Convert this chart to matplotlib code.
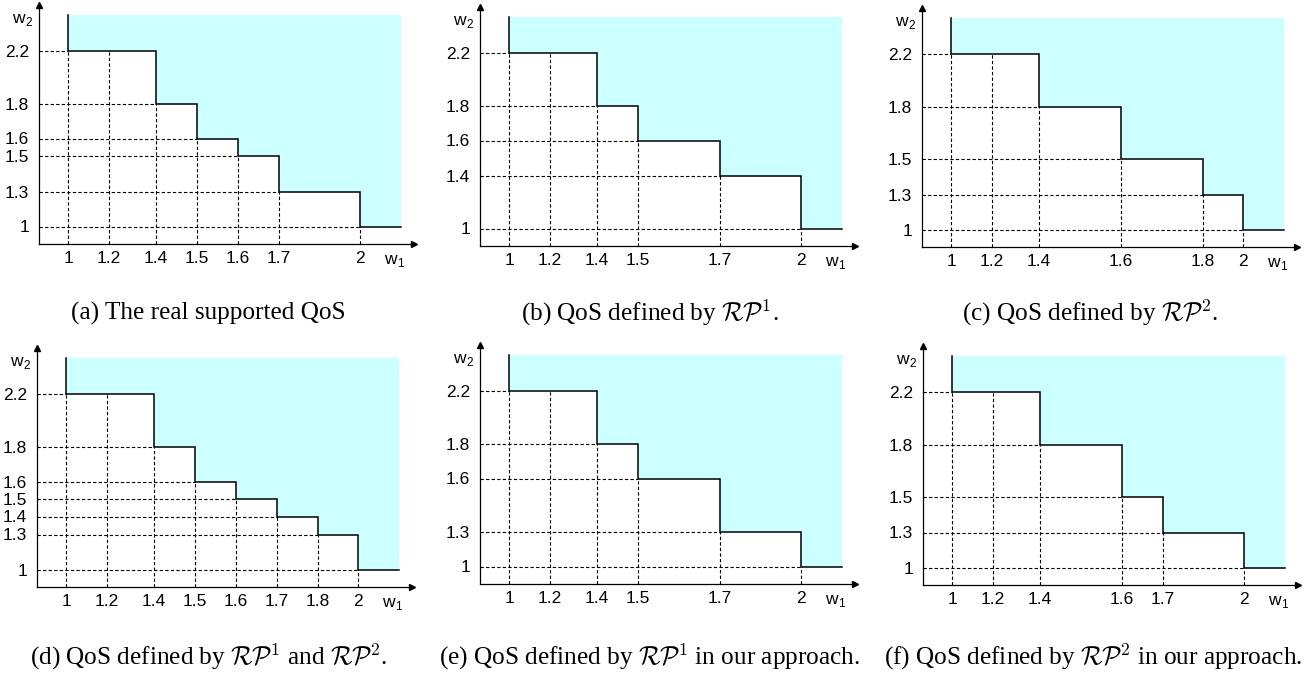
import numpy as np
import matplotlib
matplotlib.use('Agg')
import matplotlib.pyplot as plt
from matplotlib.ticker import NullLocator

plt.rcParams['mathtext.fontset'] = 'cm'

# ---- data: staircase corners (w1 where the step starts, w2 level of that step)
a_w1 = [1, 1.4, 1.5, 1.6, 1.7, 2]
a_w2 = [2.2, 1.8, 1.6, 1.5, 1.3, 1]
a_xticks = [1, 1.2, 1.4, 1.5, 1.6, 1.7, 2]

b_w1 = [1, 1.4, 1.5, 1.7, 2]
b_w2 = [2.2, 1.8, 1.6, 1.4, 1]
b_xticks = [1, 1.2, 1.4, 1.5, 1.7, 2]

c_w1 = [1, 1.4, 1.6, 1.8, 2]
c_w2 = [2.2, 1.8, 1.5, 1.3, 1]
c_xticks = [1, 1.2, 1.4, 1.6, 1.8, 2]

d_w1 = [1, 1.4, 1.5, 1.6, 1.7, 1.8, 2]
d_w2 = [2.2, 1.8, 1.6, 1.5, 1.4, 1.3, 1]
d_xticks = [1, 1.2, 1.4, 1.5, 1.6, 1.7, 1.8, 2]

e_w1 = [1, 1.4, 1.5, 1.7, 2]
e_w2 = [2.2, 1.8, 1.6, 1.3, 1]
e_xticks = [1, 1.2, 1.4, 1.5, 1.7, 2]

f_w1 = [1, 1.4, 1.6, 1.7, 2]
f_w2 = [2.2, 1.8, 1.5, 1.3, 1]
f_xticks = [1, 1.2, 1.4, 1.6, 1.7, 2]

captions = [
    "(a) The real supported QoS",
    r"(b) QoS defined by $\mathcal{RP}^1$.",
    r"(c) QoS defined by $\mathcal{RP}^2$.",
    r"(d) QoS defined by $\mathcal{RP}^1$ and $\mathcal{RP}^2$.",
    r"(e) QoS defined by $\mathcal{RP}^1$ in our approach.",
    r"(f) QoS defined by $\mathcal{RP}^2$ in our approach.",
]

# ---- layout: the axes are schematic, values sit on a fixed grid (pixels from origin)
X_KNOTS = [1, 1.2, 1.4, 1.5, 1.6, 1.7, 1.8, 2]
X_PX = [29, 70, 117, 158, 199, 240, 281, 321]
Y_KNOTS = [1, 1.3, 1.4, 1.5, 1.6, 1.8, 2.2]
Y_PX = [17.5, 52.5, 70.5, 87.6, 105.5, 140.3, 193]
AX_W, AX_H = 375, 239       # axis length incl. arrow
FILL_R, FILL_T = 362, 229   # shaded region extent
W, H = 1314, 675
ORIGINS = [(39, 244), (480, 246), (922, 247), (37, 587), (480, 584), (923, 585)]
CAP_POS = [(208, 313), (650, 313), (1090, 313), (209, 657), (650, 657), (1093, 657)]
FILL = '#ccffff'


def piecewise(src, dst):
    src = np.asarray(src, float)
    dst = np.asarray(dst, float)
    s_lo = (dst[1] - dst[0]) / (src[1] - src[0])
    s_hi = (dst[-1] - dst[-2]) / (src[-1] - src[-2])

    def f(v):
        v = np.asarray(v, float)
        out = np.interp(v, src, dst)
        out = np.where(v < src[0], dst[0] + (v - src[0]) * s_lo, out)
        out = np.where(v > src[-1], dst[-1] + (v - src[-1]) * s_hi, out)
        return out
    return f


xf, xi = piecewise(X_KNOTS, X_PX), piecewise(X_PX, X_KNOTS)
yf, yi = piecewise(Y_KNOTS, Y_PX), piecewise(Y_PX, Y_KNOTS)

fig = plt.figure(figsize=(13.14, 6.75), dpi=100)

panels = [(a_w1, a_w2, a_xticks), (b_w1, b_w2, b_xticks), (c_w1, c_w2, c_xticks),
          (d_w1, d_w2, d_xticks), (e_w1, e_w2, e_xticks), (f_w1, f_w2, f_xticks)]

sans = ['Liberation Sans', 'DejaVu Sans']


def var_label(x, y, sub):
    # "w" with a small subscript, in the sans tick font
    fig.text(x / W, 1 - y / H, 'w', family=sans, fontsize=12.5, ha='right', va='baseline')
    fig.text((x + 0.5) / W, 1 - (y + 3) / H, sub, family=sans, fontsize=8.5,
             ha='left', va='baseline')


for k, (w1, w2, xt) in enumerate(panels):
    ox, oy = ORIGINS[k]
    ax = fig.add_axes([ox / W, 1 - oy / H, AX_W / W, AX_H / H])
    ax.set_xscale('function', functions=(xf, xi))
    ax.set_yscale('function', functions=(yf, yi))
    ax.set_xlim(float(xi(0)), float(xi(AX_W)))
    ax.set_ylim(float(yi(0)), float(yi(AX_H)))
    xr = float(xi(FILL_R))
    yt = float(yi(FILL_T))

    # staircase outline
    sx = [w1[0]]
    sy = [yt]
    for i in range(len(w1)):
        sx += [w1[i]]
        sy += [w2[i]]
        nxt = w1[i + 1] if i + 1 < len(w1) else xr
        sx += [nxt]
        sy += [w2[i]]
    ax.fill(sx + [xr], sy + [yt], color=FILL, lw=0, zorder=1)
    ax.plot(sx, sy, color='black', lw=1.1, zorder=3, solid_joinstyle='miter')

    # dashed guides
    x0 = ax.get_xlim()[0]
    y0 = ax.get_ylim()[0]
    for v in xt:
        top = w2[max(i for i in range(len(w1)) if w1[i] <= v)]
        ax.plot([v, v], [y0, top], color='black', lw=0.8, ls=(0, (3, 2)), zorder=2)
    for v in w2:
        right = w1[w2.index(v)]
        ax.plot([x0, right], [v, v], color='black', lw=0.8, ls=(0, (3, 2)), zorder=2)

    ax.set_xticks(xt)
    ax.set_xticklabels([f"{v:g}" for v in xt], family=sans, fontsize=12.5)
    ax.set_yticks(w2)
    ax.set_yticklabels([f"{v:g}" for v in w2], family=sans, fontsize=12.5)
    ax.xaxis.set_minor_locator(NullLocator())
    ax.yaxis.set_minor_locator(NullLocator())
    ax.tick_params(length=0)
    ax.tick_params(axis='x', pad=5)
    ax.tick_params(axis='y', pad=7)

    for s in ['top', 'right']:
        ax.spines[s].set_visible(False)
    for s in ['left', 'bottom']:
        ax.spines[s].set_linewidth(0.9)
    ax.plot(1, 0, '>', color='black', ms=4, transform=ax.transAxes, clip_on=False)
    ax.plot(0, 1, '^', color='black', ms=4, transform=ax.transAxes, clip_on=False)
    ax.patch.set_alpha(0)

    var_label(ox - 14, oy - 221, '2')
    var_label(ox + 358, oy + 20, '1')

    cx, cy = CAP_POS[k]
    fig.text(cx / W, 1 - cy / H, captions[k], family='Liberation Serif', fontsize=18.2,
             ha='center', va='center')

fig.savefig('out.png', dpi=100)
